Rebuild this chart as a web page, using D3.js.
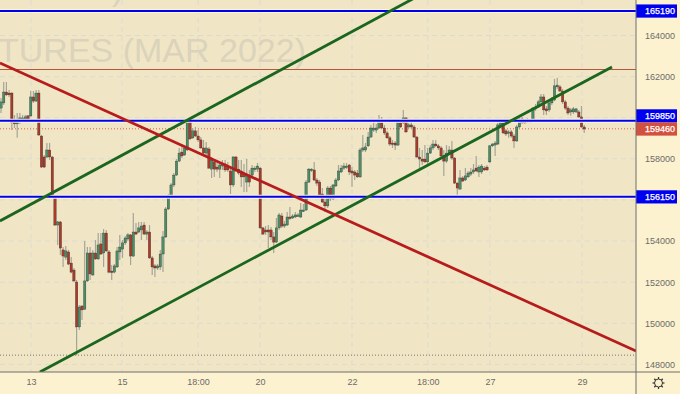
<!DOCTYPE html>
<html>
<head>
<meta charset="utf-8">
<script src="https://cdn.jsdelivr.net/npm/d3@7"></script>
<style>
  html, body { margin: 0; padding: 0; background: #fdf2cf; }
  svg { display: block; }
  text { font-family: "Liberation Sans", Arial, sans-serif; }
</style>
</head>
<body>
<script>
// candle values, one entry per bar
var opens = [
  160470,160720,161250,161200,161200,159790,159700,159840,159890,159940,
  160090,160090,161010,160810,161200,159110,158090,158090,158430,158090,
  156190,154780,154930,153570,153220,153470,152930,152590,152010,149820,
  150840,150690,152060,153420,152350,153420,153130,153860,153420,154390,
  153470,152540,152490,152740,153470,153610,153910,154100,154300,153270,
  154440,154440,154540,154780,154340,154440,153180,152790,152690,152740,
  153370,154200,155560,156190,156730,157210,157890,158330,158190,158430,
  159790,159020,159360,159110,158920,158530,158280,158480,157500,157850,
  157600,157500,157650,157750,157650,157410,156730,158090,157500,157410,
  157310,156870,157210,157210,157500,157500,157550,154640,154540,154540,
  154540,154200,153950,154640,155220,154730,154780,155170,155120,155170,
  155220,155170,155460,155510,156870,157460,157460,156970,156870,156290,
  155900,155710,156580,156050,156680,156970,157360,157550,157600,157700,
  157410,157360,157310,157120,158430,158430,158630,159060,159400,159400,
  159500,159750,159500,159260,159020,158770,158770,158670,159750,159750,
  159990,159550,159650,159550,159060,158090,157990,157990,157850,158280,
  158530,158720,158630,158530,158140,157890,158280,158430,158040,156820,
  156530,157070,156970,157120,157260,157360,157550,157360,157360,157550,
  157600,157850,158630,158670,158720,159550,159750,159360,159260,159310,
  159110,158870,159550,159940,159840,159790,159790,159840,160430,160520,
  160770,161010,160430,160380,160720,160860,161500,161500,161300,160770,
  160470,160280,160280,160280,160280,160040,159550
];
var closes = [
  160770,161250,161110,161110,159750,159700,159840,159990,159990,160040,
  159940,161010,160810,161200,159160,157600,157600,158430,158090,156190,
  154780,154930,153660,153270,153520,152880,152490,152060,149820,150790,
  150650,152060,153420,152400,153420,153130,153810,153370,154390,153520,
  152490,152490,152790,153520,153710,153910,154150,154300,153270,154440,
  154340,154640,154730,154340,154440,153180,152740,152690,152790,153370,
  154200,155560,156190,156730,157210,157890,158280,158140,158530,159790,
  158970,159360,159110,158920,158530,158280,158530,157550,157940,157500,
  157500,157700,157750,157460,157460,156730,158090,157410,157310,157120,
  157120,157260,156870,157550,157550,157650,154640,154340,154440,154440,
  154200,153950,154640,155270,154730,154830,155170,155120,155220,155270,
  155270,155510,155510,156870,157500,157500,156970,156820,156140,155900,
  155710,156580,156050,156730,156970,157410,157550,157650,157650,157360,
  157310,157210,157120,158430,158530,158580,159060,159500,159500,159500,
  159750,159500,159260,159020,158720,158720,158670,159750,159550,159990,
  159310,159650,159550,159060,158090,157990,157890,157850,158280,158530,
  158720,158630,158530,158140,157890,158280,158430,158040,156820,156580,
  157070,156920,157170,157310,157360,157460,157410,157600,157650,157460,
  157460,158630,158720,158770,159650,159750,159260,159210,159310,159110,
  158870,159550,159890,159750,159750,159890,159890,160470,160520,160770,
  161010,160380,160330,160720,160860,161550,161590,161300,160770,160470,
  160230,160380,160430,160430,160040,159550,159450
];
var highs = [
  160960,161740,161740,161350,161250,160130,160230,160230,160130,160130,
  160130,161300,161300,161350,161350,159160,158190,158770,158770,158140,
  156240,154980,154980,153710,153760,153570,153220,152690,152110,150890,
  150890,154000,153710,153710,153570,154050,154390,154390,154590,154540,
  153570,152830,152880,153710,154300,154050,154250,154390,154340,155370,
  154880,154930,154930,154930,154540,154780,153270,152880,152880,153570,
  154490,155660,156290,156820,157310,157990,158530,158630,158630,159840,
  159890,159500,159550,159400,159060,158920,158820,158580,158090,157940,
  157800,157850,157940,157940,157850,157550,158140,158140,157940,157940,
  157750,157990,157460,157700,157650,157800,157600,154690,154730,154780,
  154690,154440,155120,155370,155370,154980,155410,155660,155320,155410,
  155370,155850,155800,156970,157550,157550,157850,157070,156970,156580,
  156100,156680,156680,156780,157070,157700,157700,157800,157800,157750,
  157600,157460,157460,158530,159160,158770,159310,159650,159790,159700,
  160130,160040,159650,159360,159110,158920,158870,159790,159890,160380,
  160040,159750,159890,159650,159110,158530,158430,158670,158530,158670,
  158920,158920,158720,158630,158430,158670,158630,158870,158090,156870,
  157460,157170,157550,157410,157550,157750,158140,157700,157750,157650,
  157700,158670,158770,158870,159890,159940,159840,159450,159400,159400,
  159210,159650,159990,160040,159940,159990,159940,160520,160670,160860,
  161160,161160,160570,160860,161010,161890,161940,161590,161400,160860,
  160570,160470,160520,160470,160380,160570,159650
];
var lows = [
  160230,160620,161060,161010,159400,159500,159020,159700,159840,159890,
  159890,160040,160720,160770,159110,157550,157550,158040,157940,156140,
  154730,153810,153320,152740,153080,152830,152440,152010,148450,149670,
  150160,150650,152010,152110,152300,153080,153080,153320,152740,153470,
  152440,152110,152440,152690,153080,153180,153810,154000,152830,153220,
  154300,154390,154050,154300,154050,153130,152350,152250,152590,152590,
  152490,154150,155510,156140,156630,157170,157850,158040,158140,158380,
  158920,158970,159060,158820,158480,158190,158140,157500,157070,157120,
  157360,157070,157460,157360,157360,156290,156630,157360,157210,156630,
  156390,156390,156630,157070,157360,157360,154590,154300,154300,153660,
  154050,153420,153910,154540,154640,154640,154730,155020,155070,155120,
  155170,155120,155410,155460,156820,157360,156920,156680,156100,155850,
  155410,155610,155950,156000,156630,156920,157310,157460,157500,157210,
  156630,156970,157070,157070,158330,158330,158580,159020,159310,159260,
  159450,159450,159160,158970,158630,158530,158430,158630,159500,159700,
  159260,159500,159450,159020,158040,157550,157700,157800,157700,158240,
  158430,158580,158430,158040,157170,157800,158190,157940,156780,156190,
  156480,156870,156920,157070,157170,157260,157360,157120,157260,157410,
  157410,157800,158580,158140,158670,159500,159210,159110,159020,159020,
  158530,158820,159500,159700,159700,159750,159750,159790,160330,160470,
  160670,160130,160130,160280,160620,160810,161400,161250,160670,160380,
  160130,160090,160180,160230,159990,159500,159260
];

// price axis: grid on every tick, 160000 and 156000 have no label (tags sit there)
var priceTicks = [164000, 162000, 160000, 158000, 156000, 154000, 152000, 150000, 148000];
var priceLabels = [164000, 162000, 158000, 154000, 152000, 150000, 148000];

// time axis, position given as bar number
var timeTicks = [11.1, 44.8, 73, 95.9, 130, 158.1, 181.1, 215.2];
var timeLabels = ["13", "15", "18:00", "20", "22", "18:00", "27", "29"];

// horizontal levels
var blueLevels = [165190, 159850, 156150];
var brownLevel = 162370;
var lastPrice = 159460;
var lowLevel = 148450;

// labels on the price scale: value, and where the tag is centred as a price
var tagValues = [165190, 159850, 159460, 156150];
var tagPrices = [165190, 160090, 159450, 156150];
var tagColors = ["#0000f0", "#0000f0", "#d4503e", "#0000f0"];

// trend lines as [bar, price] pairs
var greenUpper = [[-0.4, 154980], [155.2, 165970]];
var greenLower = [[14.4, 147630], [226.3, 162470]];
var redLine = [[-0.4, 162660], [235.2, 148650]];

function drawChart() {

  var width = 680,
      height = 394,
      plotWidth = 636,
      plotHeight = 372;

  var x = d3.scaleLinear().domain([0, opens.length - 1]).range([1, 584.2]);
  var y = d3.scaleLinear().domain([148000, 164000]).range([364.4, 35.5]);

  var svg = d3.select("body")
              .append("svg")
              .attr("width", width)
              .attr("height", height);

  svg.append("clipPath")
     .attr("id", "plot-clip")
     .append("rect")
     .attr("width", plotWidth)
     .attr("height", plotHeight);

  svg.append("rect")
     .attr("width", plotWidth)
     .attr("height", plotHeight)
     .attr("fill", "#f0e6c5");

  var plot = svg.append("g").attr("clip-path", "url(#plot-clip)");

  // Grid
  plot.selectAll(".hgrid")
      .data(priceTicks)
      .enter().append("line")
      .attr("class", "hgrid")
      .attr("x1", 0)
      .attr("x2", plotWidth)
      .attr("y1", function(d) { return y(d); })
      .attr("y2", function(d) { return y(d); })
      .attr("stroke", "#dcdad0")
      .attr("stroke-dasharray", "5,4");

  plot.selectAll(".vgrid")
      .data(timeTicks)
      .enter().append("line")
      .attr("class", "vgrid")
      .attr("x1", function(d) { return x(d); })
      .attr("x2", function(d) { return x(d); })
      .attr("y1", 0)
      .attr("y2", plotHeight)
      .attr("stroke", "#dcdad0")
      .attr("stroke-dasharray", "5,4");

  // Watermark
  plot.append("text")
      .attr("x", -2)
      .attr("y", 62)
      .attr("font-size", 34)
      .attr("fill", "#dbd3bb")
      .text("TURES (MAR 2022)");

  plot.append("text")
      .attr("x", 112)
      .attr("y", 0)
      .attr("font-size", 34)
      .attr("fill", "#dbd3bb")
      .text(")");

  // Dotted levels
  plot.append("line")
      .attr("x1", 0)
      .attr("x2", plotWidth)
      .attr("y1", y(lowLevel))
      .attr("y2", y(lowLevel))
      .attr("stroke", "#77776a")
      .attr("stroke-dasharray", "1,2");

  plot.append("line")
      .attr("x1", 0)
      .attr("x2", plotWidth)
      .attr("y1", y(lastPrice))
      .attr("y2", y(lastPrice))
      .attr("stroke", "#d4604a")
      .attr("stroke-dasharray", "1,2");

  // Candles
  var bars = d3.range(opens.length);

  plot.selectAll(".wick")
      .data(bars)
      .enter().append("line")
      .attr("class", "wick")
      .attr("x1", function(i) { return x(i); })
      .attr("x2", function(i) { return x(i); })
      .attr("y1", function(i) { return y(highs[i]); })
      .attr("y2", function(i) { return y(lows[i]); })
      .attr("stroke", "#a4a498")
      .attr("stroke-width", 1.2);

  plot.selectAll(".body")
      .data(bars)
      .enter().append("rect")
      .attr("class", "body")
      .attr("x", function(i) { return x(i) - 1.2; })
      .attr("width", 2.4)
      .attr("y", function(i) { return y(Math.max(opens[i], closes[i])); })
      .attr("height", function(i) { return Math.max(1.5, Math.abs(y(opens[i]) - y(closes[i]))); })
      .attr("fill", function(i) { return closes[i] >= opens[i] ? "#4b8c69" : "#a93a2c"; })
      .attr("stroke", "#2a2a22")
      .attr("stroke-width", 0.3);

  // Horizontal levels, with the pale edge they have in the picture
  plot.append("line")
      .attr("x1", 0)
      .attr("x2", plotWidth)
      .attr("y1", y(brownLevel))
      .attr("y2", y(brownLevel))
      .attr("stroke", "#b5563f")
      .attr("stroke-width", 1)
      .attr("shape-rendering", "crispEdges");

  plot.selectAll(".blue-edge")
      .data(blueLevels)
      .enter().append("line")
      .attr("class", "blue-edge")
      .attr("x1", 0)
      .attr("x2", plotWidth)
      .attr("y1", function(d) { return y(d); })
      .attr("y2", function(d) { return y(d); })
      .attr("stroke", "#fbf5dc")
      .attr("stroke-width", 4);

  plot.selectAll(".blue")
      .data(blueLevels)
      .enter().append("line")
      .attr("class", "blue")
      .attr("x1", 0)
      .attr("x2", plotWidth)
      .attr("y1", function(d) { return y(d); })
      .attr("y2", function(d) { return y(d); })
      .attr("stroke", "#0000ee")
      .attr("stroke-width", 2);

  // Trend lines
  var trend = d3.line()
                .x(function(d) { return x(d[0]); })
                .y(function(d) { return y(d[1]); });

  plot.selectAll(".trend")
      .data([
        {points: greenUpper, color: "#1b661f"},
        {points: greenLower, color: "#1b661f"},
        {points: redLine, color: "#b71c1c"}
      ])
      .enter().append("path")
      .attr("class", "trend")
      .attr("d", function(d) { return trend(d.points); })
      .attr("fill", "none")
      .attr("stroke", function(d) { return d.color; })
      .attr("stroke-width", 2.8);

  // Axes
  var yAxis = d3.axisRight(y)
                .tickValues(priceLabels)
                .tickSize(0)
                .tickPadding(9)
                .tickFormat(d3.format("d"));

  var yGroup = svg.append("g")
                  .attr("transform", "translate(" + plotWidth + ",0)")
                  .call(yAxis);

  yGroup.select(".domain").remove();
  yGroup.selectAll("text")
        .attr("font-size", 9)
        .style("font-family", "Liberation Sans, Arial, sans-serif")
        .attr("fill", "#6b6b6b");

  var xAxis = d3.axisBottom(x)
                .tickValues(timeTicks)
                .tickSize(0)
                .tickPadding(7)
                .tickFormat(function(d, i) { return timeLabels[i]; });

  var xGroup = svg.append("g")
                  .attr("transform", "translate(0," + plotHeight + ")")
                  .call(xAxis);

  xGroup.select(".domain").remove();
  xGroup.selectAll("text")
        .attr("font-size", 9)
        .style("font-family", "Liberation Sans, Arial, sans-serif")
        .attr("fill", "#6b6b6b");

  // Tags on the price scale
  var tags = svg.selectAll(".tag")
                .data(tagValues)
                .enter().append("g")
                .attr("class", "tag")
                .attr("transform", function(d, i) { return "translate(" + plotWidth + "," + y(tagPrices[i]) + ")"; });

  tags.append("rect")
      .attr("x", 0)
      .attr("y", -6.6)
      .attr("width", 41)
      .attr("height", 13.2)
      .attr("fill", function(d, i) { return tagColors[i]; });

  tags.append("text")
      .attr("x", 9)
      .attr("dy", "0.34em")
      .attr("font-size", 9)
      .attr("fill", "#ffffff")
      .attr("stroke", "#ffffff")
      .attr("stroke-width", 0.25)
      .text(function(d) { return d; });

  // Frame lines
  svg.append("line")
     .attr("x1", plotWidth)
     .attr("x2", plotWidth)
     .attr("y1", 0)
     .attr("y2", height)
     .attr("stroke", "#6f6f6f")
     .attr("stroke-width", 1);

  svg.append("line")
     .attr("x1", 0)
     .attr("x2", width)
     .attr("y1", plotHeight)
     .attr("y2", plotHeight)
     .attr("stroke", "#6f6f6f")
     .attr("stroke-width", 1);

  // Settings gear in the corner
  var gear = svg.append("g").attr("transform", "translate(658.5,383)");

  gear.selectAll("line")
      .data(d3.range(8))
      .enter().append("line")
      .attr("y1", 3.5)
      .attr("y2", 6)
      .attr("transform", function(d) { return "rotate(" + d * 45 + ")"; })
      .attr("stroke", "#333333")
      .attr("stroke-width", 1.2);

  gear.append("circle")
      .attr("r", 4)
      .attr("fill", "#fdf2cf")
      .attr("stroke", "#333333")
      .attr("stroke-width", 1);
}
drawChart()
</script>
</body>
</html>
